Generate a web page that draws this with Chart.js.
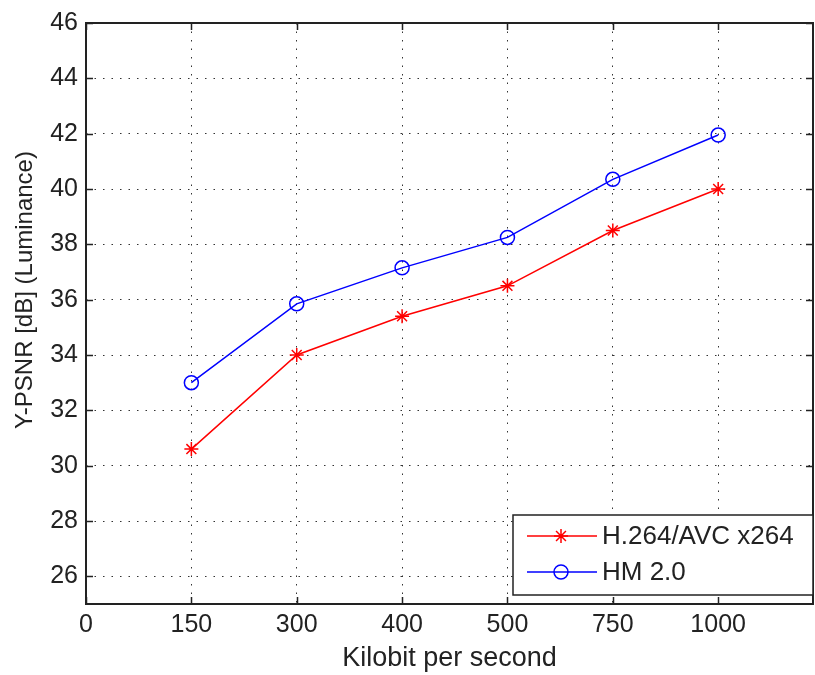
<!DOCTYPE html>
<html>
<head>
<meta charset="utf-8">
<script src="https://cdn.jsdelivr.net/npm/chart.js@4/dist/chart.umd.min.js"></script>
<style>
  body { margin: 0; background: #fff; }
  canvas { display: block; }
</style>
</head>
<body>
<canvas id="psnrChart" width="815" height="675"></canvas>
<script>
// x axis is an index axis: the ticks are evenly spaced, labelled with bitrates
const xLabels = ['0', '150', '300', '400', '500', '750', '1000'];
const yTicks = [26, 28, 30, 32, 34, 36, 38, 40, 42, 44, 46];

const h264 = [30.6, 34.0, 35.4, 36.5, 38.5, 40.0];
const hm20 = [33.0, 35.85, 37.15, 38.25, 40.35, 41.95];

const seriesNames = ['H.264/AVC x264', 'HM 2.0'];
const yTitle = 'Y-PSNR [dB] (Luminance)';

const FONT = 'Liberation Sans, Arial, sans-serif';
const TEXT = '#222';

function toPoints(values) {
    // first value belongs to tick index 1 (150 kbit/s)
    return values.map((v, i) => ({ x: i + 1, y: v }));
}

const frameTicks = {
    id: 'frameTicks',
    beforeDatasetsDraw(chart) {
        const { ctx, chartArea: a, scales } = chart;
        const len = 7;
        ctx.save();
        ctx.strokeStyle = '#222';
        ctx.lineWidth = 1.5;
        ctx.setLineDash([]);
        ctx.beginPath();
        scales.x.ticks.forEach(t => {
            const px = Math.round(scales.x.getPixelForValue(t.value)) + 0.5;
            ctx.moveTo(px, a.bottom); ctx.lineTo(px, a.bottom - len);
            ctx.moveTo(px, a.top); ctx.lineTo(px, a.top + len);
        });
        scales.y.ticks.forEach(t => {
            const py = Math.round(scales.y.getPixelForValue(t.value)) + 0.5;
            ctx.moveTo(a.left, py); ctx.lineTo(a.left + len, py);
            ctx.moveTo(a.right, py); ctx.lineTo(a.right - len, py);
        });
        ctx.stroke();
        ctx.lineWidth = 2;
        ctx.strokeRect(a.left, a.top, a.right - a.left, a.bottom - a.top);
        ctx.restore();

        // y axis title, drawn by hand so it sits where the original has it
        ctx.save();
        ctx.translate(25, 290);
        ctx.rotate(-Math.PI / 2);
        ctx.fillStyle = TEXT;
        ctx.font = '24px ' + FONT;
        ctx.textAlign = 'center';
        ctx.textBaseline = 'middle';
        ctx.fillText(yTitle, 0, 0);
        ctx.restore();
    }
};

const boxLegend = {
    id: 'boxLegend',
    afterDraw(chart) {
        const { ctx, chartArea: a } = chart;
        const w = 300, h = 80;
        const x0 = a.right - w, y0 = a.bottom - h - 9;
        ctx.save();
        ctx.fillStyle = '#fff';
        ctx.fillRect(x0, y0, w, h);
        ctx.strokeStyle = '#222';
        ctx.lineWidth = 1.5;
        ctx.strokeRect(x0, y0, w, h);
        chart.data.datasets.forEach((ds, i) => {
            const cy = y0 + 21 + i * 36;
            ctx.strokeStyle = ds.borderColor;
            ctx.lineWidth = 1.5;
            ctx.beginPath();
            ctx.moveTo(x0 + 14, cy);
            ctx.lineTo(x0 + 84, cy);
            ctx.stroke();
            ctx.fillStyle = ds.pointBackgroundColor;
            Chart.helpers.drawPoint(ctx, {
                pointStyle: ds.pointStyle,
                radius: ds.pointRadius,
                borderWidth: ds.pointBorderWidth,
                rotation: 0
            }, x0 + 48, cy);
            ctx.fillStyle = TEXT;
            ctx.font = '26px ' + FONT;
            ctx.textBaseline = 'middle';
            ctx.fillText(ds.label, x0 + 89, cy + 1);
        });
        ctx.restore();
    }
};

new Chart(document.getElementById('psnrChart').getContext('2d'), {
    type: 'line',
    data: {
        datasets: [
            {
                label: seriesNames[0],
                data: toPoints(h264),
                borderColor: '#ff0000',
                borderWidth: 1.5,
                pointStyle: 'star',
                pointRadius: 7,
                pointBorderWidth: 1.5,
                pointBorderColor: '#ff0000',
                pointBackgroundColor: '#ff0000',
                tension: 0
            },
            {
                label: seriesNames[1],
                data: toPoints(hm20),
                borderColor: '#0000ff',
                borderWidth: 1.5,
                pointStyle: 'circle',
                pointRadius: 7,
                pointBorderWidth: 1.5,
                pointBorderColor: '#0000ff',
                pointBackgroundColor: 'rgba(255,255,255,0)',
                tension: 0
            }
        ]
    },
    options: {
        responsive: false,
        animation: false,
        layout: { autoPadding: false, padding: { top: 23, right: 2, left: 0, bottom: 0 } },
        plugins: {
            legend: { display: false },
            tooltip: { enabled: false }
        },
        scales: {
            x: {
                type: 'linear',
                min: 0,
                max: 6.9,
                afterBuildTicks: scale => {
                    scale.ticks = xLabels.map((_, i) => ({ value: i }));
                },
                afterFit: scale => { scale.height = 71; },
                ticks: {
                    callback: value => xLabels[value],
                    color: TEXT,
                    font: { family: FONT, size: 25 },
                    padding: 6,
                    maxRotation: 0,
                    autoSkip: false
                },
                grid: {
                    color: '#333',
                    lineWidth: 1,
                    drawTicks: false
                },
                border: { display: false, dash: [1.5, 7] },
                title: {
                    display: true,
                    text: 'Kilobit per second',
                    color: TEXT,
                    font: { family: FONT, size: 27 },
                    padding: { top: 0, bottom: 0 }
                }
            },
            y: {
                type: 'linear',
                min: 25,
                max: 46,
                afterBuildTicks: scale => {
                    scale.ticks = yTicks.map(v => ({ value: v }));
                },
                afterFit: scale => { scale.width = 86; },
                ticks: {
                    color: TEXT,
                    font: { family: FONT, size: 25 },
                    padding: 8
                },
                grid: {
                    color: '#333',
                    lineWidth: 1,
                    drawTicks: false
                },
                border: { display: false, dash: [1.5, 7] }
            }
        }
    },
    plugins: [frameTicks, boxLegend]
});
</script>
</body>
</html>
